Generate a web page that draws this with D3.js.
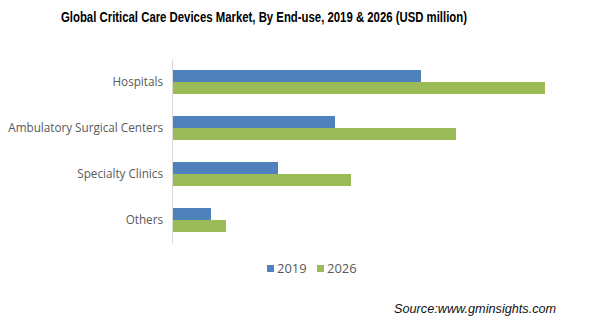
<!DOCTYPE html>
<html>
<head>
<meta charset="utf-8">
<script src="https://cdn.jsdelivr.net/npm/d3@7"></script>
<style>
  body { margin: 0; background: #fff; }
  svg { display: block; }
</style>
</head>
<body>
<div id="chart"></div>
<script>
// Chart data (USD million)
const categories = ['Hospitals', 'Ambulatory Surgical Centers', 'Specialty Clinics', 'Others'];
const seriesNames = ['2019', '2026'];
const values2019 = [1245, 815, 530, 195];
const values2026 = [1865, 1420, 895, 270];
const colors = ['#4f81bd', '#9bbb59'];

const width = 607, height = 331;
const svg = d3.select('#chart').append('svg')
    .attr('width', width)
    .attr('height', height);

// Title (condensed bold)
svg.append('text')
    .attr('x', 61)
    .attr('y', 22)
    .attr('textLength', 406)
    .attr('lengthAdjust', 'spacingAndGlyphs')
    .style('font-family', '"Liberation Sans", Arial, sans-serif')
    .style('font-weight', 'bold')
    .style('font-size', '14px')
    .style('fill', '#000')
    .text('Global Critical Care Devices Market, By End-use, 2019 & 2026 (USD million)');

// Scales
const x = d3.scaleLinear().domain([0, 2000]).range([172, 572]);
const y = d3.scaleBand().domain(categories).range([59, 243]).paddingInner(0.478).paddingOuter(0.239);
const ySub = d3.scaleBand().domain(seriesNames).range([0, y.bandwidth()]);

const rows = categories.map((c, i) => ({ cat: c, vals: [values2019[i], values2026[i]] }));

const groups = svg.selectAll('.group')
    .data(rows)
    .join('g')
    .attr('class', 'group')
    .attr('transform', d => `translate(0,${y(d.cat)})`);

groups.selectAll('rect')
    .data(d => d.vals.map((v, j) => ({ key: seriesNames[j], v, j })))
    .join('rect')
    .attr('x', x(0))
    .attr('y', d => ySub(d.key))
    .attr('width', d => x(d.v) - x(0))
    .attr('height', ySub.bandwidth())
    .attr('fill', d => colors[d.j]);

// Category axis
const yAxis = svg.append('g')
    .attr('transform', `translate(${x(0)},0)`)
    .call(d3.axisLeft(y).tickSize(0).tickPadding(9));
yAxis.select('.domain').attr('stroke', '#d9d9d9').attr('stroke-width', 1);
yAxis.selectAll('text')
    .style('font-family', '"Open Sans", "Segoe UI", sans-serif')
    .style('font-size', '11.7px')
    .style('fill', '#595959');

// Legend
const legend = svg.append('g');
const legendX = [267, 317];
seriesNames.forEach((name, i) => {
    legend.append('rect')
        .attr('x', legendX[i])
        .attr('y', 265)
        .attr('width', 7)
        .attr('height', 7)
        .attr('fill', colors[i]);
    legend.append('text')
        .attr('x', legendX[i] + 10)
        .attr('y', 273)
        .style('font-family', '"Open Sans", "Segoe UI", sans-serif')
        .style('font-size', '13px')
        .style('fill', '#595959')
        .text(name);
});

// Source
svg.append('text')
    .attr('x', 394)
    .attr('y', 313)
    .style('font-family', '"Liberation Sans", Arial, sans-serif')
    .style('font-style', 'italic')
    .style('font-size', '12.7px')
    .style('fill', '#111')
    .text('Source:www.gminsights.com');
</script>
</body>
</html>
